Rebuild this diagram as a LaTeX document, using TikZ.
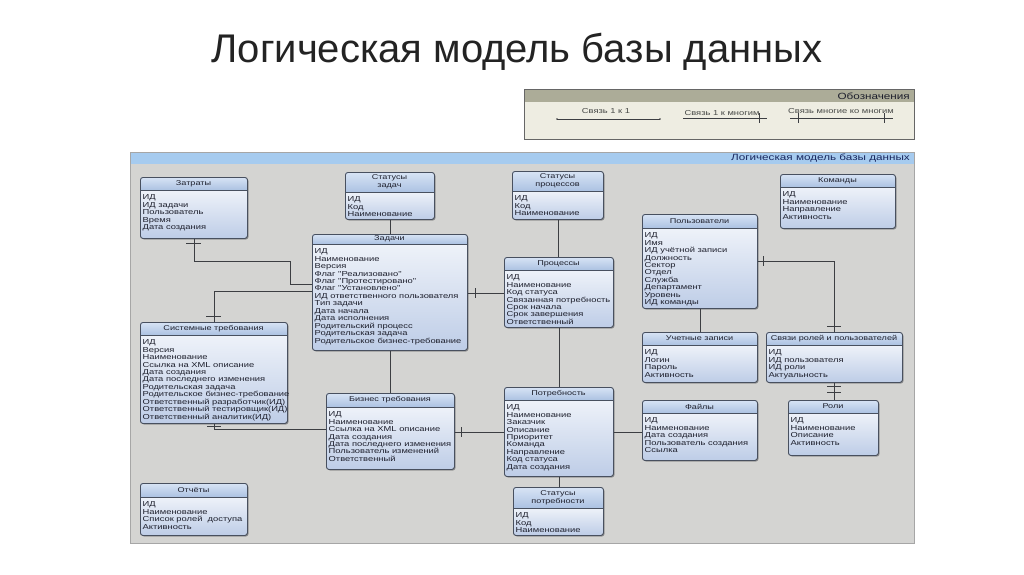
\documentclass[tikz,border=0pt]{standalone}
\usepackage{fontspec}
\setmainfont{Liberation Sans}
\newfontfamily\boxfont[FakeStretch=1.3]{Liberation Sans}
\definecolor{bgC}{RGB}{212,212,210}
\definecolor{barC}{RGB}{166,203,239}
\definecolor{barTxt}{RGB}{25,40,95}
\definecolor{entC}{RGB}{72,80,95}
\definecolor{hdA}{RGB}{216,228,245}
\definecolor{hdB}{RGB}{172,194,226}
\definecolor{bodyA}{RGB}{238,242,249}
\definecolor{bodyB}{RGB}{190,205,231}
\definecolor{txtC}{RGB}{30,32,45}
\definecolor{lineC}{RGB}{60,62,66}
\definecolor{shadowC}{RGB}{150,150,150}
\definecolor{legHd}{RGB}{172,172,152}
\definecolor{legBody}{RGB}{238,237,226}
\definecolor{legTxt}{RGB}{70,72,70}
\definecolor{titleC}{RGB}{35,35,35}
\tikzset{
  conn/.style={draw=lineC, line width=0.9pt},
  tickmark/.style={draw=lineC, line width=0.8pt},
  ttl/.style={font=\boxfont\fontsize{7}{7.6}\selectfont, text=txtC, align=center, inner sep=0},
  itm/.style={font=\boxfont\fontsize{7.2}{7.45}\selectfont, text=txtC, align=left, inner sep=0, anchor=north west},
  legtext/.style={font=\boxfont\fontsize{7.2}{8}\selectfont, text=legTxt, inner sep=0},
}
\newcommand\entity[8]{%
  \fill[shadowC, rounded corners=2.5pt] (#2+1.5,#3+1.5) rectangle (#4+1.5,#5+1.5);
  \begin{scope}
    \clip[rounded corners=2.5pt] (#2,#3) rectangle (#4,#5);
    \shade[top color=bodyA, bottom color=bodyB] (#2,#6) rectangle (#4,#5);
    \shade[top color=hdA, bottom color=hdB] (#2,#3) rectangle (#4,#6);
  \end{scope}
  \draw[entC, line width=0.6pt] (#2,#6) -- (#4,#6);
  \node[draw=entC, line width=0.9pt, rounded corners=2.5pt, inner sep=0,
        minimum width={#4pt-#2pt}, minimum height={#5pt-#3pt}, anchor=north west] (#1) at (#2,#3) {};
  \node[ttl] (#1-t) at ({(#2+#4)/2},{(#3+#6)/2}) {#7};
  \node[itm] (#1-i) at (#2+2.5,#6+4.5) {#8};
}
\begin{document}
\begin{tikzpicture}[x=1pt,y=-1pt]
\useasboundingbox (0,0) rectangle (1024,574);
\fill[white] (0,0) rectangle (1024,574);

% title
\node[font=\fontsize{40}{44}\selectfont, text=titleC, inner sep=0] (title) at (517,52) {Логическая модель базы данных};

% legend
\fill[legBody] (524,89) rectangle (914,139);
\fill[legHd] (524,89) rectangle (914,102);
\draw[gray!80!black, line width=0.6pt] (524,89) rectangle (914,139);
\node[font=\boxfont\fontsize{9}{10}\selectfont, text=txtC, anchor=east, inner sep=0] (legtitle) at (910,96) {Обозначения};
\node[legtext] (l1) at (606,111) {Связь 1 к 1};
\node[legtext] (l2) at (722,113) {Связь 1 к многим};
\node[legtext] (l3) at (841,111) {Связь многие ко многим};
\coordinate (a1) at (557,119); \coordinate (b1) at (660,119);
\coordinate (a2) at (683,118); \coordinate (b2) at (767,118);
\coordinate (a3) at (790,118); \coordinate (b3) at (893,118);
\draw[lineC, line width=0.6pt] (a1) -- (b1);
\fill[lineC] (a1) circle (0.9); \fill[lineC] (b1) circle (0.9);
\draw[lineC, line width=0.6pt] (a2) -- (b2);
\draw[lineC, line width=0.8pt] (759,113) -- (759,123);
\draw[lineC, line width=0.6pt] (a3) -- (b3);
\draw[lineC, line width=0.8pt] (798,113) -- (798,123);
\draw[lineC, line width=0.8pt] (884,113) -- (884,123);

% diagram area
\fill[bgC] (130,152) rectangle (914,543);
\fill[barC] (130,152) rectangle (914,164);
\draw[gray!70, line width=0.5pt] (130,152) rectangle (914,543);
\node[font=\boxfont\fontsize{9}{10}\selectfont, text=barTxt, anchor=east, inner sep=0] (bartitle) at (910,158) {Логическая модель базы данных};

% entities
\entity{zat}{140}{177}{247}{238}{190}{Затраты}{ИД\\ИД задачи\\Пользователь\\Время\\Дата создания}
\entity{stz}{345}{172}{434}{219}{192}{Статусы\\задач}{ИД\\Код\\Наименование}
\entity{zad}{312}{234}{467}{350}{244}{Задачи}{ИД\\Наименование\\Версия\\Флаг "Реализовано"\\Флаг "Протестировано"\\Флаг "Установлено"\\ИД ответственного пользователя\\Тип задачи\\Дата начала\\Дата исполнения\\Родительский процесс\\Родительская задача\\Родительское бизнес-требование}
\entity{stp}{512}{171}{603}{219}{191}{Статусы\\процессов}{ИД\\Код\\Наименование}
\entity{pro}{504}{257}{613}{327}{270}{Процессы}{ИД\\Наименование\\Код статуса\\Связанная потребность\\Срок начала\\Срок завершения\\Ответственный}
\entity{pol}{642}{214}{757}{308}{228}{Пользователи}{ИД\\Имя\\ИД учётной записи\\Должность\\Сектор\\Отдел\\Служба\\Департамент\\Уровень\\ИД команды}
\entity{kom}{780}{174}{895}{228}{187}{Команды}{ИД\\Наименование\\Направление\\Активность}
\entity{sys}{140}{322}{287}{423}{335}{Системные требования}{ИД\\Версия\\Наименование\\Ссылка на XML описание\\Дата создания\\Дата последнего изменения\\Родительская задача\\Родительское бизнес-требование\\Ответственный разработчик(ИД)\\Ответственный тестировщик(ИД)\\Ответственный аналитик(ИД)}
\entity{biz}{326}{393}{454}{469}{407}{Бизнес требования}{ИД\\Наименование\\Ссылка на XML описание\\Дата создания\\Дата последнего изменения\\Пользователь изменений\\Ответственный}
\entity{pot}{504}{387}{613}{476}{400}{Потребность}{ИД\\Наименование\\Заказчик\\Описание\\Приоритет\\Команда\\Направление\\Код статуса\\Дата создания}
\entity{stn}{513}{487}{603}{535}{508}{Статусы\\потребности}{ИД\\Код\\Наименование}
\entity{uch}{642}{332}{757}{382}{345}{Учетные записи}{ИД\\Логин\\Пароль\\Активность}
\entity{svr}{766}{332}{902}{382}{345}{Связи ролей и пользователей}{ИД\\ИД пользователя\\ИД роли\\Актуальность}
\entity{fai}{642}{400}{757}{460}{413}{Файлы}{ИД\\Наименование\\Дата создания\\Пользователь создания\\Ссылка}
\entity{rol}{788}{400}{878}{455}{413}{Роли}{ИД\\Наименование\\Описание\\Активность}
\entity{otc}{140}{483}{247}{535}{497}{Отчёты}{ИД\\Наименование\\Список ролей \ доступа\\Активность}

% connectors
\draw[conn] (zat.south) |- (290,261) |- (zad.west |- 0,284);
\draw[tickmark] (186,243) -- (201,243);
\draw[conn] (zad.west |- 0,291) -| (sys.north);
\draw[tickmark] (206,316) -- (221,316);
\draw[conn] (stz.south) -- (stz.south |- zad.north);
\draw[conn] (zad.east |- 0,293) -- (pro.west |- 0,293);
\draw[tickmark] (475,288) -- (475,298);
\draw[conn] (stp.south) -- (stp.south |- pro.north);
\draw[conn] (zad.south) -- (zad.south |- biz.north);
\draw[conn] (pro.south) -- (pro.south |- pot.north);
\draw[conn] (biz.east |- 0,432) -- (pot.west |- 0,432);
\draw[tickmark] (461,427) -- (461,437);
\draw[conn] (sys.south) |- (biz.west |- 0,429);
\draw[tickmark] (207,426) -- (221,426);
\draw[conn] (pot.east |- 0,432) -- (fai.west |- 0,432);
\draw[conn] (pol.south) -- (pol.south |- uch.north);
\draw[conn] (pol.east |- 0,261) -| (svr.north);
\draw[tickmark] (763.5,256) -- (763.5,266);
\draw[tickmark] (827,326) -- (841,326);
\draw[conn] (svr.south) -- (svr.south |- rol.north);
\draw[tickmark] (827,386) -- (841,386);
\draw[tickmark] (827,392) -- (841,392);
\draw[conn] (pot.south) -- (pot.south |- stn.north);
\end{tikzpicture}
\end{document}
